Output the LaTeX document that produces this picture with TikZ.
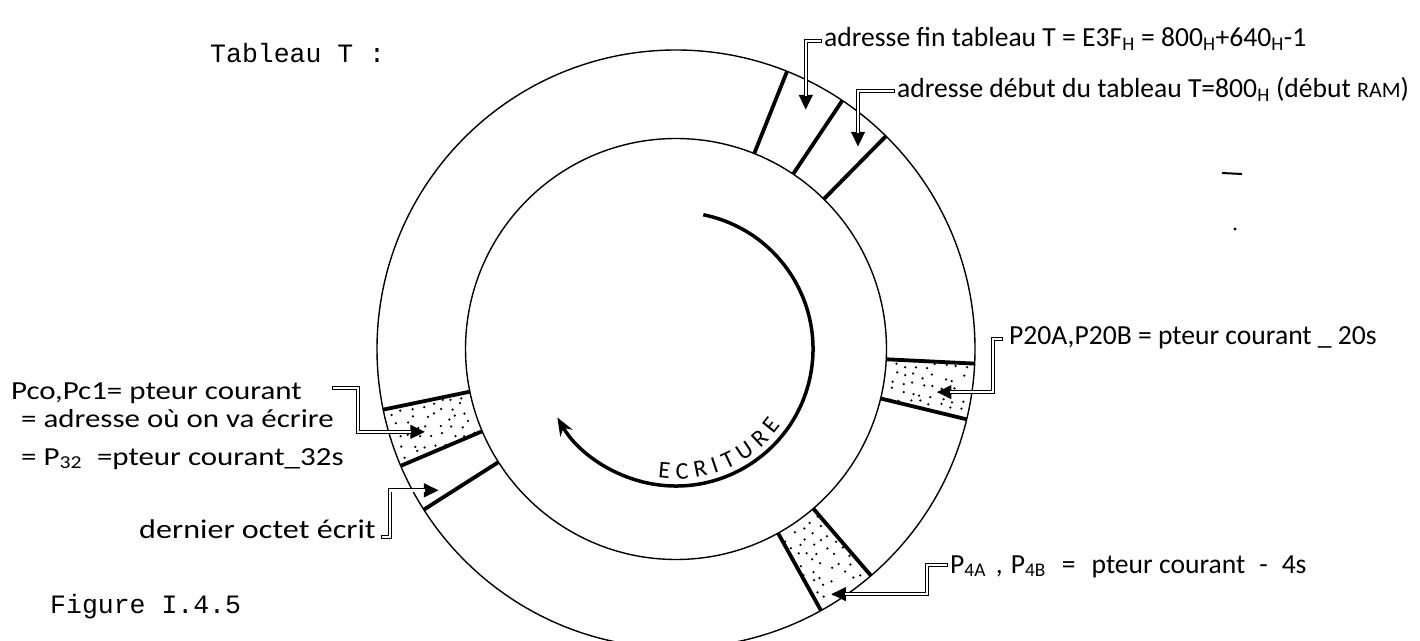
\documentclass[tikz,border=0pt]{standalone}
\usepackage{fontspec}
\setmainfont{Carlito}
\newfontfamily\typewr{Liberation Mono}
\newfontfamily\handwide[FakeStretch=1.19]{Carlito}
\usetikzlibrary{arrows.meta,calc,decorations.text}
\begin{document}
\begin{tikzpicture}[x=1pt, y=1pt,
  ring/.style={line width=1.4pt},
  slot/.style={line width=3.8pt},
  handleft/.style={font=\handwide\fontsize{26}{30}\selectfont, inner sep=0pt, anchor=base west},
  handright/.style={font=\fontsize{27.6}{30}\selectfont, inner sep=0pt, anchor=base west},
  typed/.style={font=\typewr\fontsize{26.5}{30}\selectfont, inner sep=0pt, anchor=base west},
  pipe/.style={line width=4.2pt, -{Triangle[length=15pt,width=13pt]},
    postaction={draw=white, line width=2.4pt, shorten <=1.2pt, shorten >=14pt, -}}]
\useasboundingbox (0,0) rectangle (1420,640);
\coordinate (C) at (676,291);
% the ring of table T
\draw[ring] (C) circle[radius=299];
\draw[ring] (C) circle[radius=210.5];
\pgfmathsetseed{11}
\foreach \lo/\hi in {-13.6/-2.8, -61/-49.3, 191.7/203} {
  \foreach \rr in {220,230,...,290} {
    \foreach \t in {0.1,0.3,0.5,0.7,0.9} {
      \fill ($(C)+({\lo+(\hi-\lo)*(\t+0.14*rnd-0.07)}:{\rr+6*rnd-3})$) circle[radius=1.25];
    }
  }
}
\foreach \a in {68.2,56.2,45.4,-2.8,-13.6,-49.3,-61,191.7,203,212.5}
  \draw[slot] ($(C)+(\a:210.5)$) -- ($(C)+(\a:299)$);
% writing direction
\draw[line width=3.5pt, -{Stealth[length=18pt,width=14pt]}] ($(C)+(78.5:137)$) arc[start angle=78.5, end angle=-150, radius=137];
\path[decorate, decoration={text along path, text align=fit to path,
  text={|\fontsize{24}{24}\selectfont|ECRITURE}}]
  ($(C)+(262:130)$) arc[start angle=262, end angle=324, radius=130];
% labels
\node[typed] (tab) at (210,577) {Tableau T :};
\node[typed] (fig) at (50,27) {Figure I.4.5};
\node[handright] (fin) at (824,593) {adresse fin tableau T = E3F\textsubscript{H} = 800\textsubscript{H}+640\textsubscript{H}-1};
\node[handright] (debut) at (897,542) {adresse début du tableau T=800\textsubscript{H} (début {\fontsize{22}{22}\selectfont RAM})};
\node[handright] (p20) at (1009,295) {P20A,P20B = pteur courant \_ 20s};
\node[handright] (p4) at (950,67) {P\textsubscript{4A}\hspace{10pt},\hspace{8pt}P\textsubscript{4B}\hspace{16pt}=\hspace{16pt}pteur courant\hspace{14pt}-\hspace{14pt}4s};
\node[handleft] (pcoa) at (11,240) {Pco,Pc1= pteur courant};
\node[handleft] (pcob) at (21,212) {= adresse où on va écrire};
\node[handleft] (pcoc) at (21,175) {= P\textsubscript{32}\hspace{8pt} =pteur courant\_32s};
\node[handleft, font=\handwide\fontsize{27}{30}\selectfont] (dernier) at (139,102) {dernier octet écrit};
% pointers
\coordinate (fintip) at ($(C)+(61.5:272)$);
\coordinate (debuttip) at ($(C)+(48:272)$);
\coordinate (p20tip) at ($(C)+(-9.4:264)$);
\coordinate (p4tip) at ($(C)+(-57.7:290)$);
\coordinate (pcotip) at ($(C)+(198.3:264)$);
\coordinate (derniertip) at ($(C)+(210.8:276)$);
\coordinate (pcotail) at (332,252);
\draw[pipe] ($(fin.base west)+(-2,6)$) -| (fintip);
\draw[pipe] ($(debut.base west)+(-2,7)$) -| (debuttip);
\draw[pipe] ($(p20.base west)+(-6,6)$) -- ++(-10,0) |- (p20tip);
\draw[pipe] ($(p4.base west)+(-2,8)$) -- ++(-21,0) |- (p4tip);
\draw[pipe] (pcotail) -- ++(26,0) |- (pcotip);
\draw[pipe] ($(dernier.base east)+(5,1)$) -- ++(9,0) |- (derniertip);
% stray marks
\draw[line width=2pt] (1222,467) -- (1242,466);
\fill (1235,411) circle[radius=1.6];
\end{tikzpicture}
\end{document}
